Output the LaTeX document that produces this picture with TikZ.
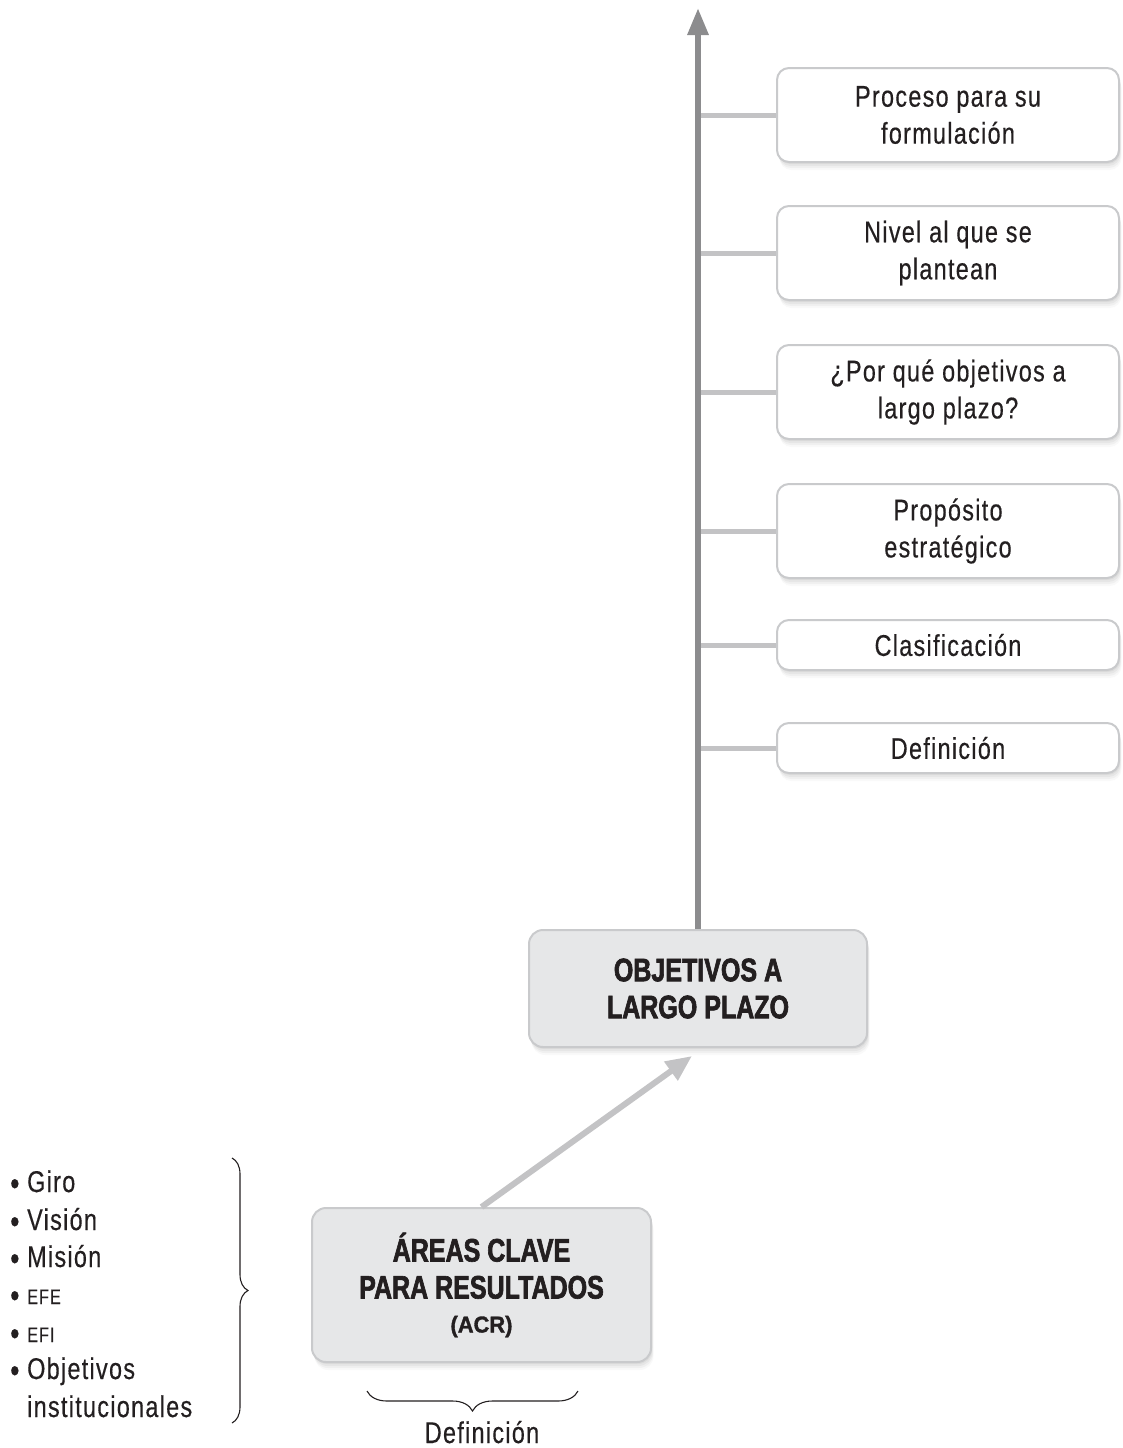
\documentclass[tikz,border=0pt]{standalone}
\usepackage{fontspec}
\setmainfont{Liberation Sans}[FakeStretch=0.78,LetterSpace=4.3,FakeBold=0.4]
\newfontfamily\headfont{Liberation Sans Bold}[FakeStretch=0.77,FakeBold=2]
\newfontfamily\acrfont{Liberation Sans Bold}[FakeStretch=0.95,FakeBold=1.5]
\usetikzlibrary{arrows.meta,shadows,decorations.pathreplacing}
\definecolor{txt}{HTML}{231F20}
\definecolor{axisc}{HTML}{8C8C8E}
\definecolor{branchc}{HTML}{C3C3C5}
\definecolor{boxline}{HTML}{C9CACC}
\definecolor{boxfill}{HTML}{E6E7E8}
\tikzset{
  softshadow/.style={
    drop shadow={shadow xshift=2.5pt,shadow yshift=-8pt,opacity=.05},
    drop shadow={shadow xshift=2pt,shadow yshift=-6pt,opacity=.07},
    drop shadow={shadow xshift=1.5pt,shadow yshift=-4pt,opacity=.09},
    drop shadow={shadow xshift=1pt,shadow yshift=-2pt,opacity=.1}},
  rbox/.style={draw=boxline, line width=2pt, fill=white, rounded corners=12pt,
    minimum width=342pt, inner sep=0pt, align=center, text=txt,
    font=\fontsize{30}{37}\selectfont, softshadow},
  gbox/.style={draw=boxline, line width=2pt, fill=boxfill, rounded corners=14pt,
    inner sep=0pt, align=center, text=txt,
    font=\headfont\fontsize{32.5}{37}\selectfont, softshadow},
  axisline/.style={draw=axisc, line width=6pt, -{Triangle[length=27pt,width=20pt]}},
  branchline/.style={draw=branchc, line width=5pt},
  diagline/.style={draw=branchc, line width=6pt, -{Triangle[length=26pt,width=22pt]}},
  li/.style={anchor=base west, inner sep=0pt, text=txt, font=\fontsize{30}{36}\selectfont},
  bracel/.style={draw=txt, line width=1.1pt, decorate},
}
\newcommand{\smallab}[1]{{\fontsize{21}{24}\selectfont #1}}
\newcommand{\bul}{\makebox[17pt][l]{\raisebox{-3pt}{\fontsize{34}{34}\selectfont\textbullet}}}
\begin{document}
\begin{tikzpicture}[x=1pt,y=-1pt]
\useasboundingbox (0,0) rectangle (1122,1448);

% right boxes
\node[rbox, minimum height=94pt] (b1) at (948,115) {Proceso para su\\formulación};
\node[rbox, minimum height=94pt] (b2) at (948,253) {Nivel al que se\\plantean};
\node[rbox, minimum height=94pt] (b3) at (948,392) {¿Por qué objetivos a\\largo plazo?};
\node[rbox, minimum height=94pt] (b4) at (948,531) {Propósito\\estratégico};
\node[rbox, minimum height=50pt] (b5) at (948,645) {Clasificación};
\node[rbox, minimum height=50pt] (b6) at (948,748) {Definición};

% central boxes
\node[gbox, minimum width=338pt, minimum height=117pt] (obj) at (698,988.5) {OBJETIVOS A\\LARGO PLAZO};
\node[gbox, minimum width=339pt, minimum height=154pt] (acr) at (481.5,1285)
  {ÁREAS CLAVE\\PARA RESULTADOS\\[-3pt]{\acrfont\fontsize{23}{28}\selectfont (ACR)}};

% axis
\coordinate (top) at (698,8);
\foreach \b in {b1,b2,b3,b4,b5,b6}
  \draw[branchline] (\b.west -| top) -- (\b.west);
\draw[axisline] (obj.north) -- (top);

% diagonal arrow
\coordinate (dtip) at (692,1056);
\draw[diagline] (acr.north) -- (dtip);

% left list
\node[li] (l1) at (10,1192) {\bul Giro};
\node[li] (l2) at (10,1230) {\bul Visión};
\node[li] (l3) at (10,1267) {\bul Misión};
\node[li] (l4) at (10,1304) {\bul\smallab{EFE}};
\node[li] (l5) at (10,1342) {\bul\smallab{EFI}};
\node[li] (l6) at (10,1379) {\bul Objetivos};
\node[li] (l7) at (27,1417) {institucionales};

% braces
\coordinate (lbt) at (232,1158);
\coordinate (lbb) at (232,1423);
\draw[bracel, decoration={brace, amplitude=16pt}] (lbt) -- (lbb);
\coordinate (bbr) at (578,1391);
\coordinate (bbl) at (367,1391);
\draw[bracel, decoration={brace, amplitude=20pt}] (bbr) -- (bbl);
\node[anchor=base, inner sep=0pt, text=txt, font=\fontsize{30}{36}\selectfont] (def) at (482,1443) {Definición};
\end{tikzpicture}
\end{document}
